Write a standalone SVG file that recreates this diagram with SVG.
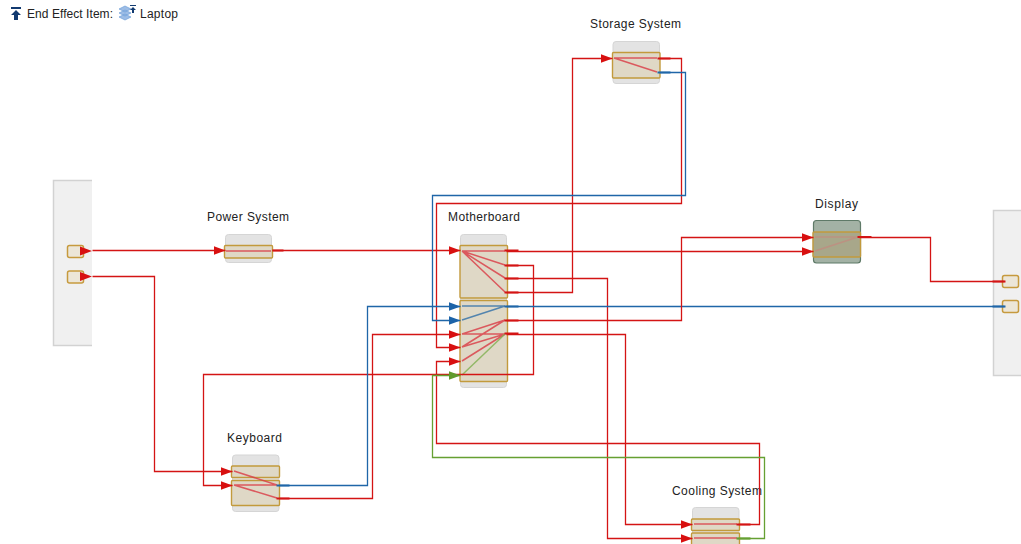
<svg xmlns="http://www.w3.org/2000/svg" width="1021" height="544" viewBox="0 0 1021 544">
<defs>
<marker id="ar" markerUnits="userSpaceOnUse" markerWidth="13" markerHeight="10" refX="12" refY="4.500" orient="auto"><path d="M0 0L12 4.500L0 9Z" fill="#d81010"/></marker>
<marker id="ab" markerUnits="userSpaceOnUse" markerWidth="13" markerHeight="10" refX="12" refY="4.500" orient="auto"><path d="M0 0L12 4.500L0 9Z" fill="#1c63a8"/></marker>
<marker id="ag" markerUnits="userSpaceOnUse" markerWidth="13" markerHeight="10" refX="12" refY="4.500" orient="auto"><path d="M0 0L12 4.500L0 9Z" fill="#5f9a2c"/></marker>
</defs>
<style>
text{font-family:"Liberation Sans",Arial,sans-serif;font-size:12px;fill:#222}
.panel{fill:#f0f0f0;stroke:#d2d2d2;stroke-width:1.5}
.body{fill:#e3e3e3;stroke:#d5d5d5}
.blk{fill:#dfd8c6;stroke:#c29a3c;stroke-width:1.4}
.port{fill:#ece6d8;stroke:#c69a3e;stroke-width:1.5}
.c{fill:none;stroke-width:1.3}
.r{stroke:#d41414}.b{stroke:#1f66a8}.g{stroke:#66a032}
.s{stroke-width:2.2;fill:none}
.l{fill:none;stroke-width:1.5;stroke-opacity:.8}
.lr{stroke:#d93a44}.lb{stroke:#2f6fa8}.lg{stroke:#7fb050}
</style>
<g id="header">
<path d="M11 7H21V9H11ZM16 10L21 15H18V20H14V15H11Z" fill="#123a70"/>
<path d="M119 9l6-3 6 3-6 3ZM119 13l6-3 6 3-6 3ZM119 17l6-3 6 3-6 3Z" fill="#9dbde6" stroke="#6f9fd8" stroke-width=".7"/>
<path d="M130 5H136V6H130ZM133 7L136 10H134V13H132V10H130Z" fill="#123a70"/>
<text x="27" y="18" textLength="86" lengthAdjust="spacing">End Effect Item:</text>
<text x="140" y="18" textLength="38" lengthAdjust="spacing">Laptop</text>
</g>
<g id="left-panel">
<path class="panel" d="M92 180.500H53.500V345.500H92"/>
<rect class="port" x="67.500" y="245.500" width="16" height="12" rx="2"/>
<rect class="port" x="67.500" y="271" width="16" height="12" rx="2"/>
</g>
<g id="right-panel">
<path class="panel" d="M1021 210.500H993.500V375.500H1021"/>
<rect class="port" x="1002.500" y="275.500" width="16" height="12" rx="2"/>
<rect class="port" x="1002.500" y="300.500" width="16" height="12" rx="2"/>
</g>
<g id="power-system">
<rect class="body" x="225.500" y="234.500" width="46" height="28" rx="3"/>
<rect class="blk" x="224.500" y="245.500" width="48" height="12.500" rx="1"/>
<path class="l lr" d="M226 251H271"/>
<text x="207" y="221" textLength="82" lengthAdjust="spacing">Power System</text>
</g>
<g id="motherboard">
<rect class="body" x="460.500" y="234.500" width="46" height="153" rx="3"/>
<rect class="blk" x="460" y="245.500" width="47.500" height="52.500" rx="1"/>
<rect class="blk" x="460" y="300.500" width="47.500" height="81" rx="1"/>
<path class="l lr" d="M462 251H505M462 251L505 265M462 251L505 278M462 251L505 292M462 334L505 320M462 334L505 334M462 347L505 320M462 347L505 334M462 361L505 334"/>
<path class="l lb" d="M462 306H505M462 320L505 306"/>
<path class="l lg" d="M462 375L505 334"/>
<text x="448" y="221" textLength="72" lengthAdjust="spacing">Motherboard</text>
</g>
<g id="storage-system">
<rect class="body" x="613" y="41.500" width="46.500" height="42" rx="3"/>
<rect class="blk" x="612.500" y="52.500" width="47.500" height="25.500" rx="1"/>
<path class="l lr" d="M614 58L657 72M614 58H657"/>
<text x="590" y="28" textLength="91" lengthAdjust="spacing">Storage System</text>
</g>
<g id="display">
<rect x="813.500" y="220.500" width="47" height="42.500" rx="3" fill="#a3b2a5" stroke="#5f7a68" stroke-width="1.200"/>
<rect x="813" y="232" width="47.500" height="25" rx="1" fill="#a8a78a" stroke="#c29a3c" stroke-width="1.400"/>
<path class="l" stroke="#c08c80" d="M815 237H858M815 251L858 237"/>
<text x="815" y="208" textLength="43" lengthAdjust="spacing">Display</text>
</g>
<g id="keyboard">
<rect class="body" x="232.500" y="455" width="46.500" height="56.500" rx="3"/>
<rect class="blk" x="231.500" y="466" width="48" height="11.500" rx="1"/>
<rect class="blk" x="231.500" y="480.500" width="48" height="25" rx="1"/>
<path class="l lr" d="M234 471L277 485M234 485L277 498M234 485H277"/>
<text x="227" y="442" textLength="55" lengthAdjust="spacing">Keyboard</text>
</g>
<g id="cooling-system">
<rect class="body" x="692.500" y="507.500" width="46.500" height="40" rx="3"/>
<rect class="blk" x="691.500" y="519" width="48" height="11.500" rx="1"/>
<rect class="blk" x="691.500" y="533" width="48" height="14" rx="1"/>
<path class="l lr" d="M694 524H737M694 538H737"/>
<text x="672" y="495" textLength="90" lengthAdjust="spacing">Cooling System</text>
</g>
<g id="connectors" transform="translate(0.500 0.500)">
<path class="c r" d="M92 250H225" marker-end="url(#ar)"/>
<path class="c r" d="M92 276H154V471H232" marker-end="url(#ar)"/>
<path class="c r" d="M272 250H460" marker-end="url(#ar)"/>
<path class="c r" d="M506 251H813" marker-end="url(#ar)"/>
<path class="c r" d="M506 265H533V374H203V485H232" marker-end="url(#ar)"/>
<path class="c r" d="M506 278H607V538H692" marker-end="url(#ar)"/>
<path class="c r" d="M506 292H572V58H612" marker-end="url(#ar)"/>
<path class="c b" d="M506 306H1004"/>
<path class="c r" d="M506 320H681V237H813" marker-end="url(#ar)"/>
<path class="c r" d="M506 334H625V524H692" marker-end="url(#ar)"/>
<path class="c r" d="M659 58H681V203H436V347H460" marker-end="url(#ar)"/>
<path class="c b" d="M659 72H685V195H432V320H460" marker-end="url(#ab)"/>
<path class="c b" d="M279 485H367V306H460" marker-end="url(#ab)"/>
<path class="c r" d="M279 498H372V334H460" marker-end="url(#ar)"/>
<path class="c r" d="M738 524H759V443H436V361H460" marker-end="url(#ar)"/>
<path class="c g" d="M738 538H764V457H432V375H460" marker-end="url(#ag)"/>
<path class="c r" d="M859 237H930V281H1004"/>
<path fill="#d81010" d="M79.500 246L91.500 250.500L79.500 255ZM79.500 271.500L91.500 276L79.500 280.500Z"/>
<g class="s">
<path class="r" d="M272 250H283M504 250H518M504 265H518M504 278H518M504 292H518M504 320H518M504 333H518M657 58H670M857 236.500H871M992 281H1005M276 498H289M736 524H750"/>
<path class="b" d="M504 306H518M657 72H670M992 306H1005M276 485H289"/>
<path class="g" d="M736 538H750"/>
</g>
</g>
</svg>
